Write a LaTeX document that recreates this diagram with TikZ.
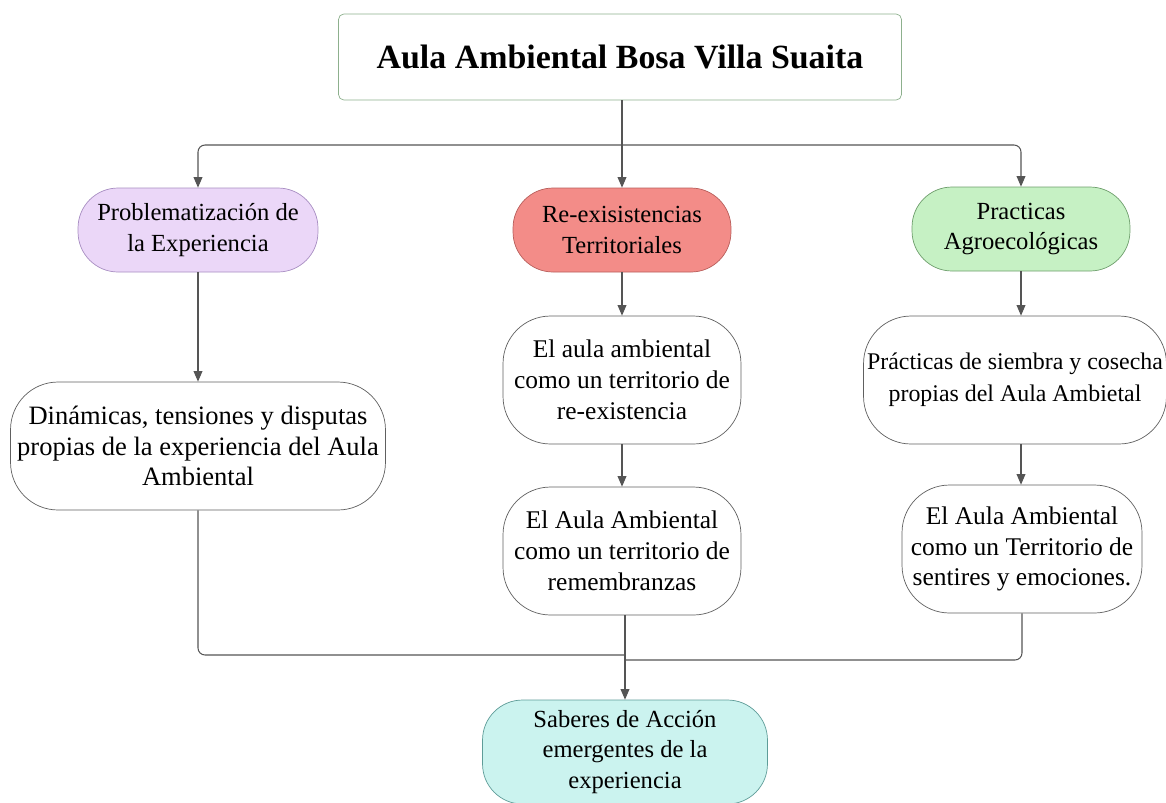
\documentclass[tikz,border=0pt]{standalone}
\usepackage{fontspec}
\setmainfont{Liberation Serif}
\usetikzlibrary{arrows.meta}

\definecolor{lineGray}{HTML}{555555}
\definecolor{titleLine}{HTML}{8DB08D}
\definecolor{probFill}{HTML}{EBD7F8}
\definecolor{probLine}{HTML}{A88EC2}
\definecolor{reexFill}{HTML}{F38C88}
\definecolor{reexLine}{HTML}{B85E5B}
\definecolor{agroFill}{HTML}{C6F1C4}
\definecolor{agroLine}{HTML}{6E9E6C}
\definecolor{sabFill}{HTML}{CBF3EF}
\definecolor{sabLine}{HTML}{5E9C98}

\begin{document}
\begin{tikzpicture}[x=0.02cm, y=-0.02cm,
    every node/.append style={font=\fontsize{14.5}{17.5}\selectfont, align=center, inner sep=2pt},
    titlebox/.style={draw=titleLine, fill=white, rounded corners=3pt, minimum width=11.26cm, minimum height=1.72cm, font=\fontsize{19.3}{23}\selectfont\bfseries},
    pill/.style={draw=#1Line, fill=#1Fill, rounded corners=0.8cm, minimum width=4.5cm, minimum height=1.68cm, font=\fontsize{14}{17.5}\selectfont},
    bubble/.style={draw=gray!75!black, fill=white, rounded corners=0.95cm, minimum height=2.56cm},
    link/.style={draw=lineGray, -{Triangle[length=6pt, width=5pt]}, semithick},
    plain/.style={draw=lineGray, semithick, rounded corners=4pt}]
    \useasboundingbox (0,0) rectangle (1166,802);

    \node[titlebox] (title) at (620,57) {Aula Ambiental Bosa Villa Suaita};

    \node[pill=prob, minimum width=4.8cm] (problem) at (198,230) {Problematización de\\la Experiencia};
    \node[pill=reex, minimum width=4.36cm] (reexist) at (622,230) {Re-exisistencias\\Territoriales};
    \node[pill=agro, minimum width=4.36cm] (agro) at (1021,229) {Practicas\\Agroecológicas};

    \node[bubble, minimum width=7.5cm, font=\fontsize{15.1}{17.5}\selectfont] (dinamicas) at (198,446) {Dinámicas, tensiones y disputas\\propias de la experiencia del Aula\\Ambiental};
    \node[bubble, minimum width=4.76cm] (aulaterr) at (622,380) {El aula ambiental\\como un territorio de\\re-existencia};
    \node[bubble, minimum width=4.76cm] (remembr) at (622,551) {El Aula Ambiental\\como un territorio de\\remembranzas};
    \node[bubble, minimum width=5.9cm, font=\fontsize{13.6}{18}\selectfont] (siembra) at (1015,380) {Prácticas de siembra y cosecha\\propias del Aula Ambietal};
    \node[bubble, minimum width=4.8cm] (sentires) at (1022,549) {El Aula Ambiental\\como un Territorio de\\sentires y emociones.};

    \node[pill=sab, minimum width=5.7cm, minimum height=2.08cm] (saberes) at (625,752) {Saberes de Acción\\emergentes de la\\experiencia};

    \coordinate (split) at (622,145);
    \draw[plain] (title.south -| split) -- (split);
    \draw[link, rounded corners=4pt] (split) -| (problem.north);
    \draw[link] (split) -- (reexist.north);
    \draw[link, rounded corners=4pt] (split) -| (agro.north);

    \draw[link] (problem) -- (dinamicas);
    \draw[link] (reexist) -- (aulaterr);
    \draw[link] (aulaterr) -- (remembr);
    \draw[link] (agro) -- (siembra.north -| agro);
    \draw[link] (siembra.south -| agro) -- (sentires.north -| agro);

    \coordinate (joinL) at (625,655);
    \coordinate (joinR) at (625,660);
    \draw[plain] (dinamicas.south) |- (joinL);
    \draw[plain] (sentires.south) |- (joinR);
    \draw[link] (remembr.south -| saberes) -- (saberes.north);
\end{tikzpicture}
\end{document}
